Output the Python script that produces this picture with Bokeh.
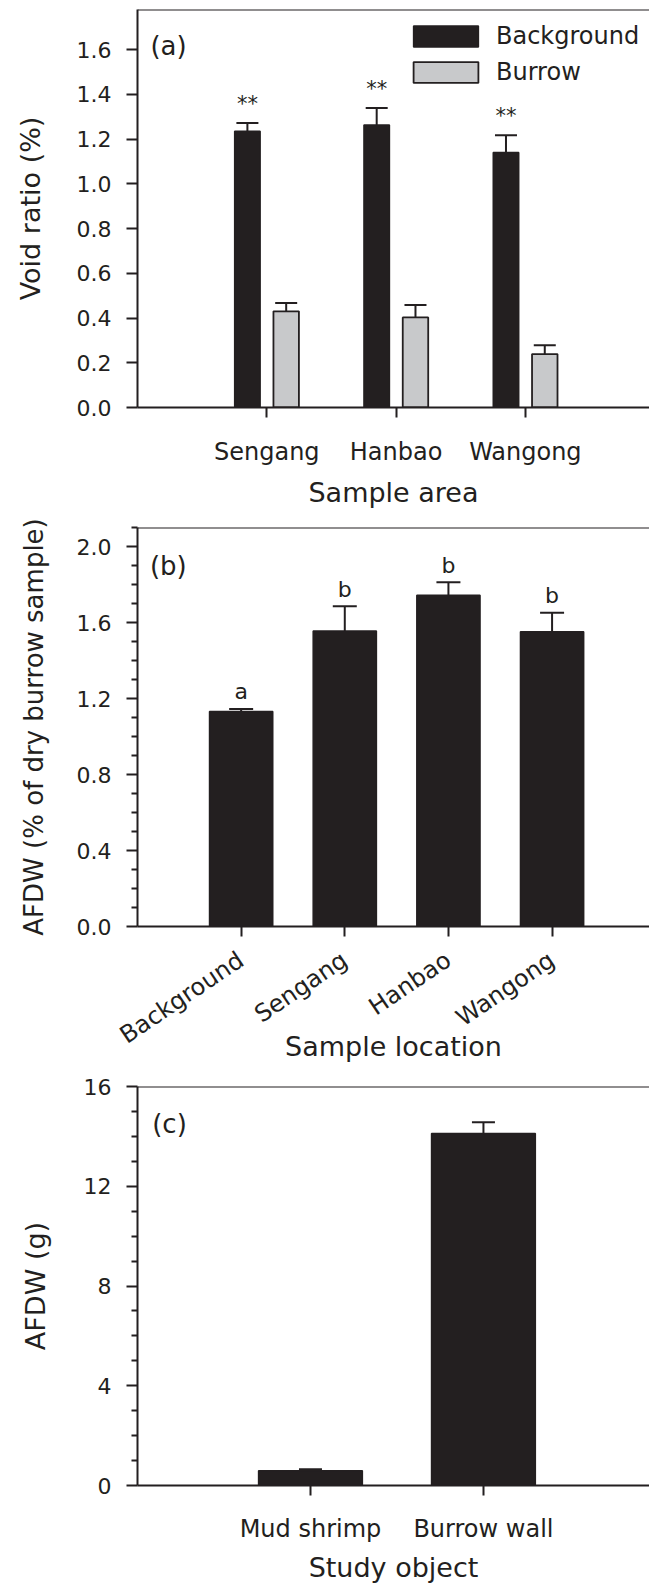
import math
from bokeh.plotting import figure
from bokeh.models import (FixedTicker, Whisker, TeeHead, ColumnDataSource, Span,
                          Legend, LegendItem, NumeralTickFormatter, Range1d, Label)
from bokeh.layouts import column
from bokeh.embed import file_html
from bokeh.resources import INLINE
from bokeh.core.properties import value

# ---------------- data ----------------
# Panel (a)
a_areas = ["Sengang", "Hanbao", "Wangong"]
a_background = [1.236, 1.263, 1.141]
a_background_se = [0.036, 0.077, 0.077]
a_burrow = [0.430, 0.403, 0.239]
a_burrow_se = [0.037, 0.055, 0.039]
a_sig = ["**", "**", "**"]
a_yticks = [0.0, 0.2, 0.4, 0.6, 0.8, 1.0, 1.2, 1.4, 1.6]

# Panel (b)
b_locations = ["Background", "Sengang", "Hanbao", "Wangong"]
b_afdw = [1.132, 1.555, 1.743, 1.551]
b_afdw_se = [0.013, 0.131, 0.069, 0.100]
b_letters = ["a", "b", "b", "b"]
b_yticks = [0.0, 0.4, 0.8, 1.2, 1.6, 2.0]
b_yminor = [0.1, 0.2, 0.3, 0.5, 0.6, 0.7, 0.9, 1.0, 1.1, 1.3, 1.4, 1.5, 1.7, 1.8, 1.9, 2.1]

# Panel (c)
c_objects = ["Mud shrimp", "Burrow wall"]
c_afdw = [0.59, 14.12]
c_afdw_se = [0.06, 0.45]
c_yticks = [0, 4, 8, 12, 16]
c_yminor = [1, 2, 3, 5, 6, 7, 9, 10, 11, 13, 14, 15]

# ---------------- style ----------------
FONT = "DejaVu Sans"
INK = "#231f20"
GRAY = "#c8c9cb"
W = 649


def make_fig(height, top, bottom, x_end, y_end, title_standoff, title_size="27px"):
    p = figure(width=W, height=height, x_range=Range1d(0, x_end), y_range=Range1d(0, y_end),
               output_backend="svg", toolbar_location=None,
               min_border_left=137, min_border_right=0,
               min_border_top=top, min_border_bottom=bottom)
    p.outline_line_color = None
    p.grid.visible = False
    p.background_fill_color = "white"
    p.border_fill_color = "white"
    p.add_layout(Span(location=y_end, dimension="width", line_color=INK, line_width=2))
    for ax in (p.xaxis[0], p.yaxis[0]):
        ax.axis_line_width = 2
        ax.axis_line_color = INK
        ax.major_tick_line_color = INK
        ax.major_tick_line_width = 2
        ax.major_tick_in = 0
        ax.minor_tick_line_color = INK
        ax.minor_tick_line_width = 2
        ax.minor_tick_in = 0
        ax.major_label_text_font = FONT
        ax.major_label_text_color = INK
        ax.axis_label_text_font = FONT
        ax.axis_label_text_font_style = "normal"
        ax.axis_label_text_font_size = "27px"
        ax.axis_label_text_color = INK
    p.yaxis.axis_label_text_font_size = title_size
    p.yaxis.major_tick_out = 11
    p.yaxis.minor_tick_out = 6
    p.yaxis.major_label_standoff = 15
    p.yaxis.major_label_text_font_size = "22px"
    p.yaxis.axis_label_standoff = title_standoff
    p.xaxis.major_tick_out = 10
    p.xaxis.minor_tick_out = 0
    p.xaxis.major_label_text_font_size = "24px"
    return p


def panel_label(p, x, y, txt):
    p.add_layout(Label(x=x, y=y, text=txt, text_font=FONT, text_font_size="26px",
                       text_color=INK, text_baseline="alphabetic", text_align="left"))


# ---------------- panel (a) ----------------
pa = make_fig(512, 9, 105, 3.96, 1.78, 28)
xa = [i + 1 for i in range(len(a_areas))]
xa_bg = [x - 0.15 for x in xa]
xa_bu = [x + 0.15 for x in xa]
src_bg = ColumnDataSource(dict(x=xa_bg, top=a_background,
                               hi=[v + e for v, e in zip(a_background, a_background_se)], sig=a_sig))
src_bu = ColumnDataSource(dict(x=xa_bu, top=a_burrow,
                               hi=[v + e for v, e in zip(a_burrow, a_burrow_se)]))
r_bg = pa.vbar(x="x", top="top", width=0.197, bottom=0, source=src_bg,
               fill_color=INK, line_color=INK, line_width=1.5)
r_bu = pa.vbar(x="x", top="top", width=0.197, bottom=0, source=src_bu,
               fill_color=GRAY, line_color=INK, line_width=1.8)
for s in (src_bg, src_bu):
    pa.add_layout(Whisker(base="x", lower="top", upper="hi", source=s, dimension="height",
                          line_color=INK, line_width=2, lower_head=None,
                          upper_head=TeeHead(size=22, line_color=INK, line_width=2)))
pa.text(x="x", y="hi", text="sig", source=src_bg, text_font=value(FONT), text_font_size="21px",
        text_color=INK, text_align="center", text_baseline="alphabetic", y_offset=-19)
pa.xaxis.ticker = FixedTicker(ticks=xa)
pa.xaxis.major_label_overrides = {x: n for x, n in zip(xa, a_areas)}
pa.xaxis.major_label_standoff = 20
pa.xaxis.axis_label = "Sample area"
pa.xaxis.axis_label_standoff = 8
pa.yaxis.ticker = FixedTicker(ticks=a_yticks)
pa.yaxis.formatter = NumeralTickFormatter(format="0.0")
pa.yaxis.axis_label = "Void ratio (%)"
panel_label(pa, 0.1, 1.617, "(a)")
legend = Legend(items=[LegendItem(label="Background", renderers=[r_bg]),
                       LegendItem(label="Burrow", renderers=[r_bu])],
                location=(268, 321), glyph_width=81, glyph_height=26, label_standoff=10,
                spacing=8, padding=0, margin=0, border_line_color=None,
                background_fill_alpha=0, label_text_font=FONT, label_text_font_size="24px",
                label_text_color=INK, label_height=26)
pa.add_layout(legend)

# ---------------- panel (b) ----------------
pb = make_fig(560, 15, 146, 4.94, 2.1, 25, title_size="26px")
xb = [i + 1 for i in range(len(b_locations))]
src_b = ColumnDataSource(dict(x=xb, top=b_afdw, hi=[v + e for v, e in zip(b_afdw, b_afdw_se)],
                              let=b_letters))
pb.vbar(x="x", top="top", width=0.61, bottom=0, source=src_b, fill_color=INK, line_color=INK,
        line_width=1.5)
pb.add_layout(Whisker(base="x", lower="top", upper="hi", source=src_b, dimension="height",
                      line_color=INK, line_width=2, lower_head=None,
                      upper_head=TeeHead(size=24, line_color=INK, line_width=2)))
pb.text(x="x", y="hi", text="let", source=src_b, text_font=value(FONT), text_font_size="22px",
        text_color=INK, text_align="center", text_baseline="alphabetic", y_offset=-17)
pb.xaxis.ticker = FixedTicker(ticks=xb)
pb.xaxis.major_label_overrides = {x: n for x, n in zip(xb, b_locations)}
pb.xaxis.major_label_orientation = math.radians(34)
pb.xaxis.major_label_standoff = 21
pb.xaxis.axis_label = "Sample location"
pb.xaxis.axis_label_standoff = -33
pb.yaxis.ticker = FixedTicker(ticks=b_yticks, minor_ticks=b_yminor)
pb.yaxis.formatter = NumeralTickFormatter(format="0.0")
pb.yaxis.axis_label = "AFDW (% of dry burrow sample)"
panel_label(pb, 0.12, 1.897, "(b)")

# ---------------- panel (c) ----------------
pc = make_fig(513, 14, 100, 2.96, 16, 30)
xc = [i + 1 for i in range(len(c_objects))]
src_c = ColumnDataSource(dict(x=xc, top=c_afdw, hi=[v + e for v, e in zip(c_afdw, c_afdw_se)]))
pc.vbar(x="x", top="top", width=0.6, bottom=0, source=src_c, fill_color=INK, line_color=INK,
        line_width=1.5)
pc.add_layout(Whisker(base="x", lower="top", upper="hi", source=src_c, dimension="height",
                      line_color=INK, line_width=2, lower_head=None,
                      upper_head=TeeHead(size=23, line_color=INK, line_width=2)))
pc.xaxis.ticker = FixedTicker(ticks=xc)
pc.xaxis.major_label_overrides = {x: n for x, n in zip(xc, c_objects)}
pc.xaxis.major_label_standoff = 19
pc.xaxis.axis_label = "Study object"
pc.xaxis.axis_label_standoff = 6
pc.yaxis.ticker = FixedTicker(ticks=c_yticks, minor_ticks=c_yminor)
pc.yaxis.formatter = NumeralTickFormatter(format="0")
pc.yaxis.axis_label = "AFDW (g)"
panel_label(pc, 0.085, 14.5, "(c)")

layout = column(pa, pb, pc, spacing=0)
open("out.html", "w").write(file_html(layout, INLINE))
